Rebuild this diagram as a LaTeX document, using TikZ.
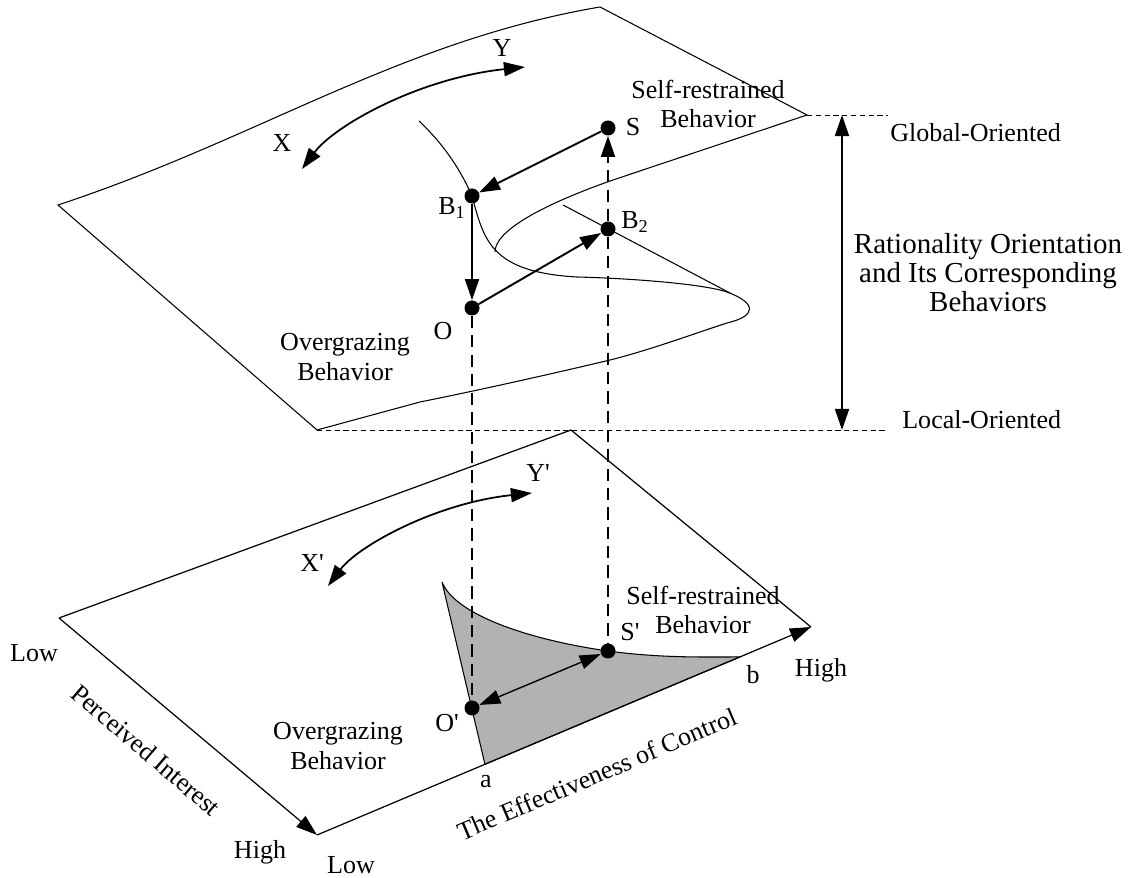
\documentclass[tikz,border=0pt]{standalone}
\usepackage{fontspec}
\setmainfont{Liberation Serif}
\usetikzlibrary{arrows.meta,calc}
\definecolor{regiongray}{RGB}{178,178,178}
\tikzset{
	ptdot/.style={circle,fill=black,inner sep=0pt,minimum size=0.3cm},
	surf/.style={line width=0.6pt},
	move/.style={line width=1.1pt,->},
	proj/.style={line width=0.9pt,dash pattern=on 7pt off 4pt},
	guide/.style={line width=0.5pt,dash pattern=on 3pt off 2pt},
	txt/.style={font=\fontsize{14.8}{17}\selectfont,align=center,inner sep=0pt},
	bigtxt/.style={font=\fontsize{16.5}{16.5}\selectfont,align=center,inner sep=0pt}
}
\begin{document}
\begin{tikzpicture}[>={Triangle[length=12pt,width=8pt]}]
	\useasboundingbox (0,0) rectangle (22.56,17.54);

	\coordinate (upR) at (16.14,15.24);
	\coordinate (upB) at (6.34,8.94);
	\coordinate (lowL) at (1.18,5.18);
	\coordinate (lowT) at (11.42,8.94);
	\coordinate (lowR) at (16.22,5.0);
	\coordinate (lowB) at (6.34,0.84);
	\coordinate (a) at ($(lowB)!0.34!(lowR)$);
	\coordinate (b) at ($(lowB)!0.856!(lowR)$);

	% upper surface
	\draw[surf] (upB) -- (1.16,13.44) .. controls (5.16,14.76) and (8.00,16.72) .. (12.00,17.40) -- (upR) -- (12.26,13.94) .. controls (11.40,13.64) and (9.90,13.04) .. (9.90,12.50);
	\draw[surf] (8.38,15.12) .. controls (9.00,14.54) and (9.30,13.94) .. (9.44,13.62) .. controls (9.68,12.74) and (9.80,12.10) .. (11.54,12.00) .. controls (12.40,11.98) and (14.00,11.88) .. (14.54,11.70) .. controls (15.14,11.48) and (15.14,11.22) .. (14.54,11.08) .. controls (13.80,10.84) and (13.00,10.54) .. (12.20,10.34) .. controls (11.20,10.10) and (9.60,9.74) .. (8.40,9.50) -- (upB);
	\draw[surf] (11.26,13.44) -- (14.60,11.68);

	% lower plane
	\filldraw[surf,fill=regiongray] (8.84,5.90) .. controls (9.10,5.24) and (10.60,4.74) .. (12.16,4.52) .. controls (13.20,4.38) and (14.00,4.40) .. (b) -- (a) -- cycle;
	\draw[line width=0.7pt] (lowL) -- (lowT) -- (lowR);
	\draw[line width=0.7pt,->] (lowL) -- (lowB);
	\draw[line width=0.7pt,->] (lowB) -- (lowR);

	\node[ptdot] (S) at (12.16,14.98) {};
	\node[ptdot] (B1) at (9.44,13.62) {};
	\node[ptdot] (B2) at (12.16,12.96) {};
	\node[ptdot] (O) at (9.44,11.38) {};
	\node[ptdot] (Op) at (9.44,3.38) {};
	\node[ptdot] (Sp) at (12.16,4.52) {};

	\draw[proj] (O) -- (Op);
	\draw[proj] (B2) -- (Sp);
	\draw[proj,->] (B2) -- (S);
	\draw[move] (S) -- (B1);
	\draw[move] (B1) -- (O);
	\draw[move] (O) -- (B2);
	\draw[line width=0.8pt,<->] (Op) -- (Sp);

	\coordinate (xup) at (6.04,14.16);
	\coordinate (yup) at (10.50,16.20);
	\coordinate (xlow) at (6.56,5.82);
	\coordinate (ylow) at (10.64,7.68);
	\draw[line width=1pt,<->] (xup) .. controls (6.70,15.04) and (8.40,15.98) .. (yup);
	\draw[line width=1pt,<->] (xlow) .. controls (7.16,6.62) and (8.72,7.48) .. (ylow);

	\coordinate (globtop) at (16.84,15.24);
	\coordinate (locbot) at (16.84,8.94);
	\draw[guide] (upR) -- (17.76,15.24);
	\draw[guide] (upB) -- (17.76,8.94);
	\draw[line width=1pt,<->] (globtop) -- (locbot);

	\node[txt] (lS) at (12.66,15.0) {S};
	\node[txt] (lB1) at (9.04,13.38) {B\textsubscript{1}};
	\node[txt] (lB2) at (12.70,13.10) {B\textsubscript{2}};
	\node[txt] (lO) at (8.86,10.92) {O};
	\node[txt] (lOp) at (8.94,3.08) {O\textquotesingle};
	\node[txt] (lSp) at (12.60,4.90) {S\textquotesingle};
	\node[txt] (lX) at (5.64,14.68) {X};
	\node[txt] (lY) at (10.04,16.58) {Y};
	\node[txt] (lXp) at (6.24,6.28) {X\textquotesingle};
	\node[txt] (lYp) at (10.76,8.08) {Y\textquotesingle};
	\node[txt] (selfup) at (14.16,15.46) {Self-restrained\\Behavior};
	\node[txt] (selflow) at (14.06,5.34) {Self-restrained\\Behavior};
	\node[txt] (overup) at (6.90,10.40) {Overgrazing\\Behavior};
	\node[txt] (overlow) at (6.76,2.62) {Overgrazing\\Behavior};
	\node[txt,anchor=west] (glob) at (17.80,14.88) {Global-Oriented};
	\node[txt,anchor=west] (loc) at (18.04,9.14) {Local-Oriented};
	\node[bigtxt] (ratio) at (19.76,12.08) {Rationality Orientation\\and Its Corresponding\\Behaviors};
	\node[txt] (la) at (9.72,1.90) {a};
	\node[txt] (lb) at (15.06,4.04) {b};
	\node[txt] (highR) at (16.42,4.14) {High};
	\node[txt] (lowLlbl) at (0.68,4.48) {Low};
	\node[txt] (highB) at (5.20,0.50) {High};
	\node[txt] (lowBlbl) at (7.02,0.24) {Low};
	\node[txt,rotate=-40.5] (interest) at (2.92,2.54) {Perceived Interest};
	\node[txt,rotate=23] (control) at (11.94,2.06) {The Effectiveness of Control};
\end{tikzpicture}
\end{document}
